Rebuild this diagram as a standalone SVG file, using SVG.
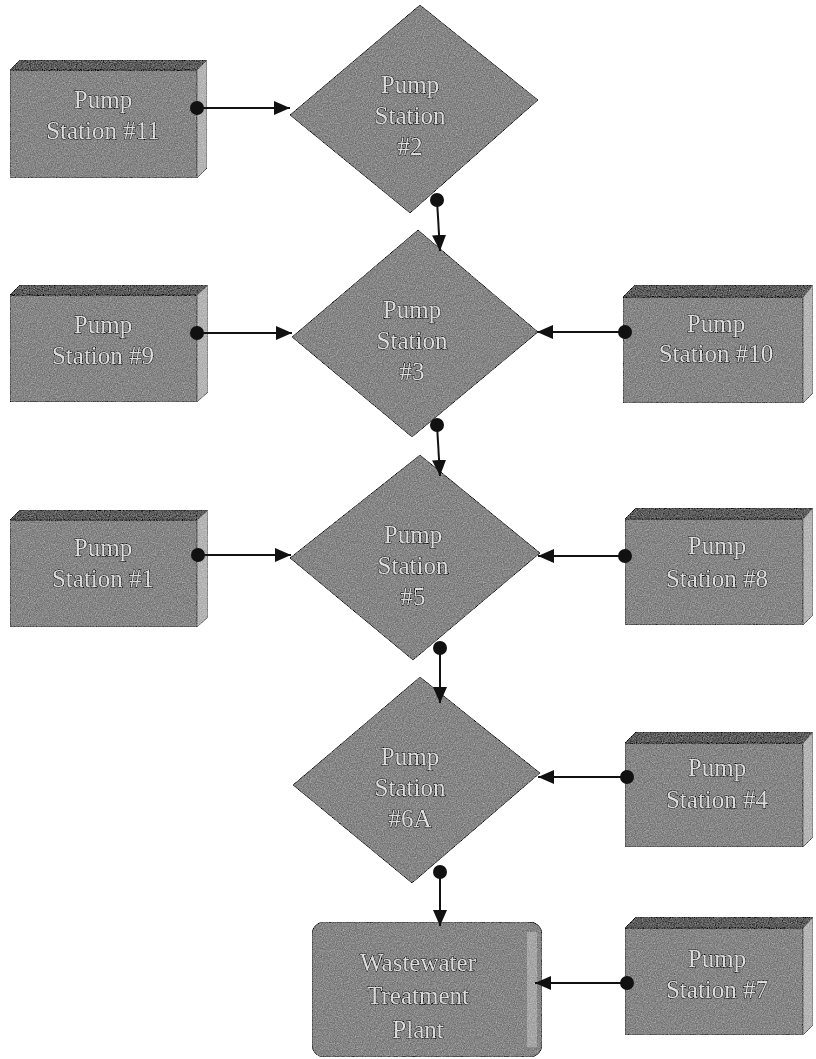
<svg xmlns="http://www.w3.org/2000/svg" width="816" height="1059" viewBox="0 0 816 1059">
<style>
.face{fill:#868686;stroke:#3a3a3a;stroke-width:1}
.top{fill:#5e5e5e;stroke:#3a3a3a;stroke-width:1}
.side{fill:#b4b4b4;stroke:#666;stroke-width:1}
.lbl{font-family:"Liberation Serif","Times New Roman",serif;font-size:25px;fill:#dcdcdc;stroke:#262626;stroke-width:1.1;paint-order:stroke;text-anchor:middle}
.wire{stroke:#111;stroke-width:2;fill:none}
.dot{fill:#111}
</style>
<defs>
<filter id="grain" x="0" y="0" width="100%" height="100%">
<feTurbulence type="fractalNoise" baseFrequency="0.85" numOctaves="2" seed="4" result="n"/>
<feColorMatrix in="n" type="saturate" values="0" result="g"/>
<feComposite in="SourceGraphic" in2="g" operator="arithmetic" k1="0" k2="1" k3="0.6" k4="-0.15" result="c"/>
<feComposite in="c" in2="SourceAlpha" operator="in"/>
</filter>
<marker id="ah" viewBox="0 0 16 16" refX="16" refY="8" markerWidth="16" markerHeight="16" markerUnits="userSpaceOnUse" orient="auto">
<path d="M0,1 L16,8 L0,15 z" fill="#111"/>
</marker>
</defs>
<rect width="816" height="1059" fill="#ffffff"/>

<g id="ps11" filter="url(#grain)">
<polygon class="face" points="10,70 197,70 197,178 10,178"/>
<polygon class="top" points="10,70 20,60 207,60 197,70"/>
<polygon class="side" points="197,70 207,60 207,168 197,178"/>
<text class="lbl" x="103" y="108">Pump</text>
<text class="lbl" x="103" y="139">Station #11</text>
</g>

<g id="ps9" filter="url(#grain)">
<polygon class="face" points="10,295 197,295 197,402 10,402"/>
<polygon class="top" points="10,295 20,285 208,285 197,295"/>
<polygon class="side" points="197,295 208,285 208,392 197,402"/>
<text class="lbl" x="103" y="333">Pump</text>
<text class="lbl" x="103" y="364">Station #9</text>
</g>

<g id="ps1" filter="url(#grain)">
<polygon class="face" points="10,520 197,520 197,627 10,627"/>
<polygon class="top" points="10,520 20,510 208,510 197,520"/>
<polygon class="side" points="197,520 208,510 208,617 197,627"/>
<text class="lbl" x="103" y="556">Pump</text>
<text class="lbl" x="103" y="587">Station  #1</text>
</g>

<g id="ps10" filter="url(#grain)">
<polygon class="face" points="623,297 803,297 803,403 623,403"/>
<polygon class="top" points="623,297 635,285 813,285 803,297"/>
<polygon class="side" points="803,297 813,285 813,393 803,403"/>
<text class="lbl" x="716" y="332">Pump</text>
<text class="lbl" x="716" y="362">Station #10</text>
</g>

<g id="ps8" filter="url(#grain)">
<polygon class="face" points="625,519 803,519 803,625 625,625"/>
<polygon class="top" points="625,519 636,508 813,508 803,519"/>
<polygon class="side" points="803,519 813,508 813,615 803,625"/>
<text class="lbl" x="717" y="554">Pump</text>
<text class="lbl" x="717" y="587">Station #8</text>
</g>

<g id="ps4" filter="url(#grain)">
<polygon class="face" points="625,743 803,743 803,847 625,847"/>
<polygon class="top" points="625,743 636,732 813,732 803,743"/>
<polygon class="side" points="803,743 813,732 813,837 803,847"/>
<text class="lbl" x="717" y="776">Pump</text>
<text class="lbl" x="717" y="808">Station #4</text>
</g>

<g id="ps7" filter="url(#grain)">
<polygon class="face" points="625,928 803,928 803,1035 625,1035"/>
<polygon class="top" points="625,928 636,917 813,917 803,928"/>
<polygon class="side" points="803,928 813,917 813,1025 803,1035"/>
<text class="lbl" x="717" y="967">Pump</text>
<text class="lbl" x="717" y="998">Station #7</text>
</g>

<g id="ps2" filter="url(#grain)">
<polygon class="face" points="420,5 538,100 410,213 290,115"/>
<text class="lbl" x="410" y="93">Pump</text>
<text class="lbl" x="410" y="124">Station</text>
<text class="lbl" x="410" y="155">#2</text>
</g>

<g id="ps3" filter="url(#grain)">
<polygon class="face" points="418,230 538,332 412,437 292,337"/>
<text class="lbl" x="412" y="318">Pump</text>
<text class="lbl" x="412" y="349">Station</text>
<text class="lbl" x="412" y="380">#3</text>
</g>

<g id="ps5" filter="url(#grain)">
<polygon class="face" points="420,455 540,553 413,660 290,558"/>
<text class="lbl" x="413" y="543">Pump</text>
<text class="lbl" x="413" y="574">Station</text>
<text class="lbl" x="413" y="605">#5</text>
</g>

<g id="ps6a" filter="url(#grain)">
<polygon class="face" points="420,677 540,773 412,883 293,785"/>
<text class="lbl" x="410" y="765">Pump</text>
<text class="lbl" x="410" y="796">Station</text>
<text class="lbl" x="410" y="827">#6A</text>
</g>

<g id="wwtp" filter="url(#grain)">
<rect class="face" x="312" y="922" width="230" height="135" rx="12" ry="12"/>
<rect x="527" y="932" width="10" height="115" fill="#a6a6a6"/>
<text class="lbl" x="418" y="971">Wastewater</text>
<text class="lbl" x="418" y="1004">Treatment</text>
<text class="lbl" x="418" y="1038">Plant</text>
</g>

<g id="connectors">
<line class="wire" x1="197" y1="108" x2="290" y2="108" marker-end="url(#ah)"/>
<line class="wire" x1="197" y1="333" x2="292" y2="333" marker-end="url(#ah)"/>
<line class="wire" x1="198" y1="555" x2="291" y2="555" marker-end="url(#ah)"/>
<line class="wire" x1="625" y1="332" x2="537" y2="332" marker-end="url(#ah)"/>
<line class="wire" x1="625" y1="556" x2="538" y2="556" marker-end="url(#ah)"/>
<line class="wire" x1="627" y1="777" x2="538" y2="777" marker-end="url(#ah)"/>
<line class="wire" x1="627" y1="983" x2="535" y2="983" marker-end="url(#ah)"/>
<line class="wire" x1="437" y1="200" x2="440" y2="251" marker-end="url(#ah)"/>
<line class="wire" x1="437" y1="425" x2="440" y2="476" marker-end="url(#ah)"/>
<line class="wire" x1="440" y1="648" x2="440" y2="703" marker-end="url(#ah)"/>
<line class="wire" x1="440" y1="872" x2="440" y2="926" marker-end="url(#ah)"/>
<circle class="dot" cx="197" cy="108" r="7"/>
<circle class="dot" cx="197" cy="333" r="7"/>
<circle class="dot" cx="198" cy="555" r="7"/>
<circle class="dot" cx="625" cy="332" r="7"/>
<circle class="dot" cx="625" cy="556" r="7"/>
<circle class="dot" cx="627" cy="777" r="7"/>
<circle class="dot" cx="627" cy="983" r="7"/>
<circle class="dot" cx="437" cy="200" r="7"/>
<circle class="dot" cx="437" cy="425" r="7"/>
<circle class="dot" cx="440" cy="648" r="7"/>
<circle class="dot" cx="440" cy="872" r="7"/>
</g>
</svg>
